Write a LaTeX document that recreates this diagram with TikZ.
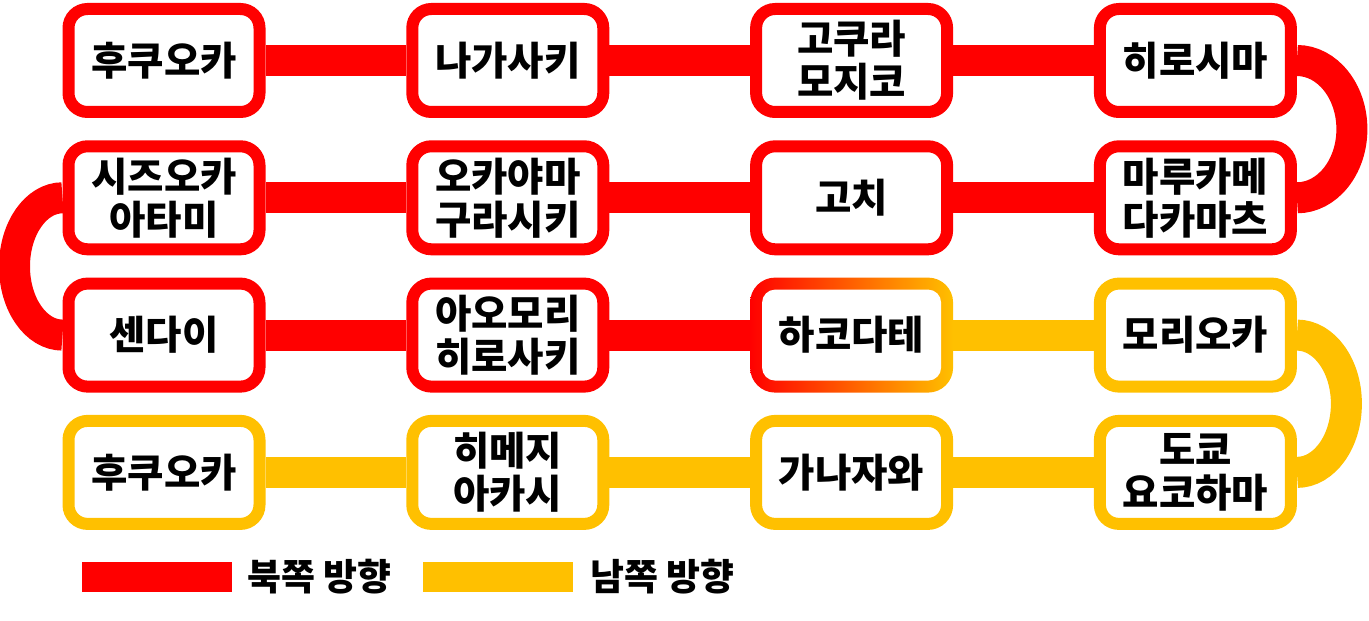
\documentclass[tikz,border=0pt]{standalone}
\usepackage{fontspec}
\newfontfamily\krfont{Noto Sans CJK KR}
\usetikzlibrary{backgrounds}
\definecolor{north_red}{HTML}{FF0000}
\definecolor{south_yellow}{HTML}{FFC000}

\begin{document}
\begin{tikzpicture}[
station_style/.style={rectangle, draw=#1, line width=0.24cm, fill=white, rounded corners=0.38cm, minimum width=3.82cm, minimum height=2.06cm, inner sep=0pt, align=center},
station_style/.default=north_red,
edge_style/.style={line width=0.62cm, #1},
edge_style/.default=north_red,
legend_style/.style={rectangle, fill=#1, minimum width=3cm, minimum height=0.6cm, inner sep=0pt},
font=\krfont\bfseries\fontsize{22.5}{24.5}\selectfont,
]
\useasboundingbox (0,0) rectangle (27.38,-12.42);

	\def\colstep{6.876}
	\def\rowstep{2.746}

% northbound stations
\foreach \nm/\cx/\cy/\lbl in {fukuoka_n/0/0/{후쿠오카}, nagasaki/1/0/{나가사키}, kokura/2/0/{고쿠라\\모지코}, hiroshima/3/0/{히로시마},
	shizuoka/0/1/{시즈오카\\아타미}, okayama/1/1/{오카야마\\구라시키}, kochi/2/1/{고치}, marugame/3/1/{마루카메\\다카마츠},
	sendai/0/2/{센다이}, aomori/1/2/{아오모리\\히로사키}}{
		\node[station_style] (\nm) at (3.28+\cx*\colstep, -1.21-\cy*\rowstep) {\lbl};
		}

% southbound stations
\foreach \nm/\cx/\cy/\lbl in {morioka/3/2/{모리오카}, fukuoka_s/0/3/{후쿠오카}, himeji/1/3/{히메지\\아카시}, kanazawa/2/3/{가나자와}, tokyo/3/3/{도쿄\\요코하마}}{
		\node[station_style=south_yellow] (\nm) at (3.28+\cx*\colstep, -1.21-\cy*\rowstep) {\lbl};
		}

	% turning point
	\node[rectangle, left color=north_red, right color=south_yellow, rounded corners=0.5cm, minimum width=4.06cm, minimum height=2.30cm, inner sep=0pt, outer sep=0pt] (hakodate) at (3.28+2*\colstep, -1.21-2*\rowstep) {};
	\node[rectangle, fill=white, rounded corners=0.26cm, minimum width=3.58cm, minimum height=1.82cm, inner sep=0pt] (hakodate_txt) at (hakodate) {하코다테};

\begin{scope}[on background layer]
	\draw[edge_style] (fukuoka_n) -- (nagasaki) -- (kokura) -- (hiroshima);
	\draw[edge_style] (hiroshima.east) arc[start angle=90, end angle=-90, x radius=1.1, y radius=\rowstep/2];
	\draw[edge_style] (marugame) -- (kochi) -- (okayama) -- (shizuoka);
	\draw[edge_style] (shizuoka.west) arc[start angle=90, end angle=270, x radius=0.96, y radius=\rowstep/2];
	\draw[edge_style] (sendai) -- (aomori) -- (hakodate);
	\draw[edge_style=south_yellow] (hakodate) -- (morioka);
	\draw[edge_style=south_yellow] (morioka.east) arc[start angle=90, end angle=-90, x radius=0.99, y radius=\rowstep/2];
	\draw[edge_style=south_yellow] (tokyo) -- (kanazawa) -- (himeji) -- (fukuoka_s);
\end{scope}

	% legend
	\node[legend_style=north_red] (leg_north) at (3.14,-11.54) {};
	\node[anchor=west, font=\krfont\bfseries\fontsize{21}{24}\selectfont] (leg_north_txt) at (4.82,-11.54) {북쪽 방향};
	\node[legend_style=south_yellow] (leg_south) at (9.96,-11.54) {};
	\node[anchor=west, font=\krfont\bfseries\fontsize{21}{24}\selectfont] (leg_south_txt) at (11.68,-11.54) {남쪽 방향};

\end{tikzpicture}
\end{document}
